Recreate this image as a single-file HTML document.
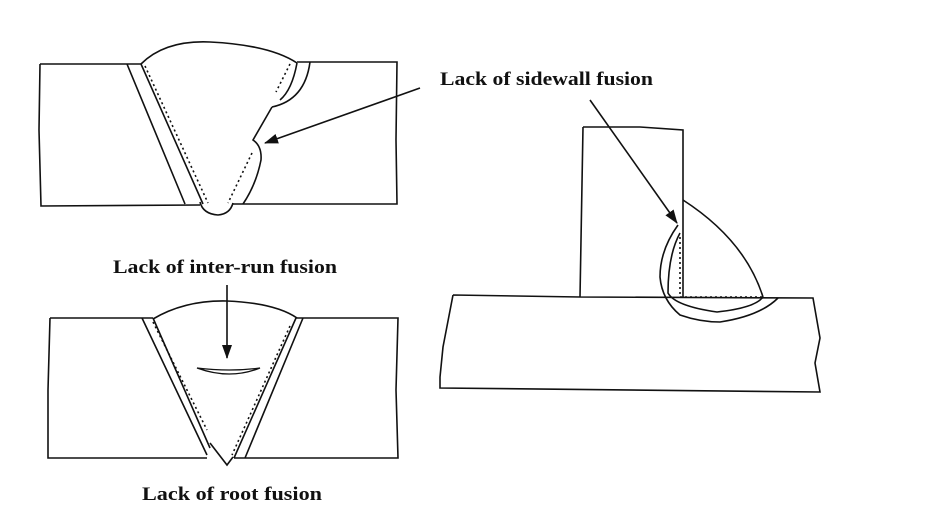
<!DOCTYPE html>
<html><head><style>
html,body{margin:0;padding:0;background:#fff;}
svg{display:block;}
text{font-family:"Liberation Serif","Times New Roman",serif;font-weight:700;font-size:19px;fill:#111;}
</style></head><body>
<svg width="930" height="520" viewBox="0 0 930 520" xmlns="http://www.w3.org/2000/svg">
<defs>
<marker id="ah2" markerWidth="14" markerHeight="10" refX="13" refY="5" orient="auto" markerUnits="userSpaceOnUse" viewBox="0 0 14 10">
<path d="M0,0 L14,5 L0,10 Z" fill="#111"/></marker>
</defs>
<g fill="none" stroke="#111" stroke-width="1.6">
<!-- Top-left -->
<path d="M40,64 L141,64 M127,64 L185,204 M141,64 L203,204 M40,64 L39,130 L41,206 L200,205 M297,62 L397,62 L396,140 L397,204 L233,204"/>
<path d="M141,64 Q165,40 210,42 Q270,45 297,63"/>
<path d="M272,107 L253,140 Q262,146 261,160 Q256,185 243,204"/>
<path d="M310,62 Q305,100 272,107"/>
<path d="M297,63 Q292,90 280,100"/>
<path d="M200,202 Q203,214 218,215 Q230,214 233,203"/>
<path stroke-dasharray="2,3" d="M145,66 L208,203 M290,64 L276,92 M252,153 L228,203"/>
<line x1="420" y1="88" x2="265" y2="143" marker-end="url(#ah2)"/>
<!-- Bottom-left -->
<path d="M50,318 L153,318 M50,318 L48,390 L48,458 L207,458 M142,318 L207,455 M153,318 L210,448 M296,318 L398,318 L396,390 L398,458 L234,458 M303,318 L245,458 M296,318 L234,458"/>
<path d="M153,319 Q185,300 227,301 Q275,303 297,318"/>
<path d="M210,443 L227,465 L233,457"/>
<path stroke-dasharray="2,3" d="M153,322 L207,430 M290,326 L232,455"/>
<path d="M197,368 Q230,372 260,368 Q230,380 197,368 Z" stroke-width="1.3"/>
<line x1="227" y1="285" x2="227" y2="358" marker-end="url(#ah2)"/>
<!-- Right -->
<path d="M583,127 L640,127 L683,130 L683,297 M583,127 L580,297 M453,295 L580,297 L813,298 L820,338 L815,363 L820,392 L440,388 L440,377 L443,347 L453,295"/>
<path d="M683,200 Q745,240 763,297"/>
<path d="M678,225 Q660,250 660,277 Q662,300 680,315 Q700,322 720,322 Q760,316 778,298"/>
<path d="M680,233 Q668,255 668,293 Q675,306 717,312 Q755,308 763,297"/>
<path stroke-dasharray="2,3" d="M680,237 L680,297 L763,297"/>
<line x1="590" y1="100" x2="677" y2="223" marker-end="url(#ah2)"/>
</g>
<text x="440" y="85" textLength="213" lengthAdjust="spacingAndGlyphs">Lack of sidewall fusion</text>
<text x="113" y="273" textLength="224" lengthAdjust="spacingAndGlyphs">Lack of inter-run fusion</text>
<text x="142" y="500" textLength="180" lengthAdjust="spacingAndGlyphs">Lack of root  fusion</text>
</svg>
</body></html>
